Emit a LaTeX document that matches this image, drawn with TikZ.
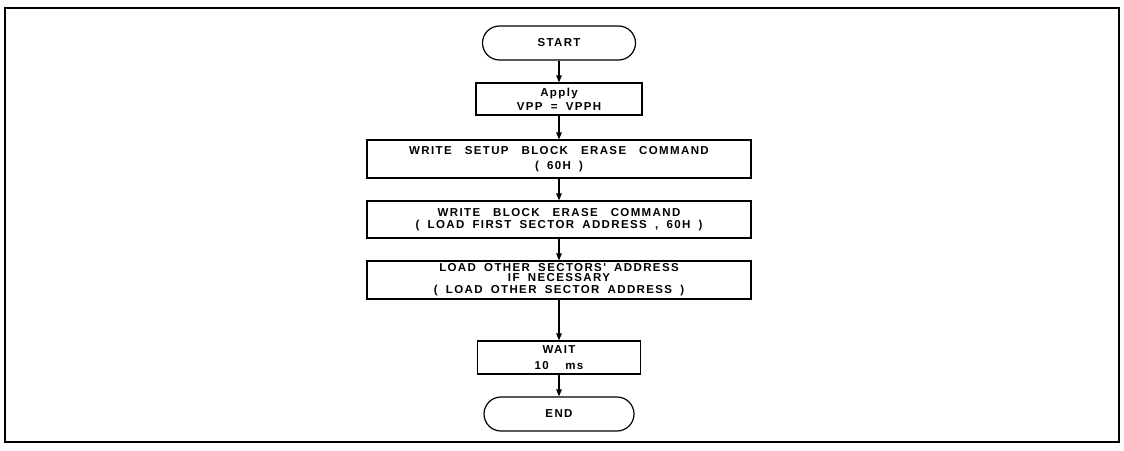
\documentclass[tikz,border=0pt]{standalone}
\usepackage{fontspec}
\setmainfont{Liberation Sans}
\newfontfamily\flowfam{Liberation Sans}[LetterSpace=12,WordSpace=1.8]
\newcommand\flowtext{\flowfam\bfseries\fontsize{11.5}{15}\selectfont}
% wide gap between words of the command lines
\newcommand\wgap{\hspace{13pt}}
\usetikzlibrary{arrows.meta}
\begin{document}
\begin{tikzpicture}[x=1pt,y=-1pt,
  every node/.style={font=\flowtext},
  procbox/.style={draw,line width=1.2pt,rectangle,inner sep=0pt,align=center},
  termbox/.style={draw,line width=1.2pt,rectangle,rounded corners=17pt,inner sep=0pt,align=center},
  flow/.style={line width=1.2pt,-{Triangle[length=7pt,width=5.5pt]}}]
\useasboundingbox (0,0) rectangle (1124,450);
% outer frame
\draw[line width=1.6pt] (5,8) rectangle (1119,442);

% steps of the erase sequence
\node[termbox,minimum width=153pt,minimum height=34pt] (start) at (559,43) {START};
\node[procbox,minimum width=166pt,minimum height=32pt] (apply) at (559,99) {Apply\\[-1pt]VPP = VPPH};
\node[procbox,minimum width=384pt,minimum height=38pt] (setup) at (559,159)
  {WRITE\wgap SETUP\wgap BLOCK\wgap ERASE\wgap COMMAND\\( 60H )};
\node[procbox,minimum width=384pt,minimum height=37pt] (erase) at (559,219.5)
  {WRITE\wgap BLOCK\wgap ERASE\wgap COMMAND\\[-3pt]( LOAD FIRST SECTOR ADDRESS , 60H )};
\node[procbox,minimum width=384pt,minimum height=38pt] (other) at (559,280)
  {LOAD OTHER SECTORS' ADDRESS\\[-5pt]IF NECESSARY\\[-3pt]( LOAD OTHER SECTOR ADDRESS )};
\node[procbox,minimum width=163pt,minimum height=33pt] (wait) at (559,357.5) {WAIT\\[1pt]10\ \ ms};
\node[termbox,minimum width=150pt,minimum height=34pt] (end) at (559,414) {END};

% connectors
\draw[flow] (start) -- (apply);
\draw[flow] (apply) -- (setup);
\draw[flow] (setup) -- (erase);
\draw[flow] (erase) -- (other);
\draw[flow] (other) -- (wait);
\draw[flow] (wait) -- (end);
\end{tikzpicture}
\end{document}
